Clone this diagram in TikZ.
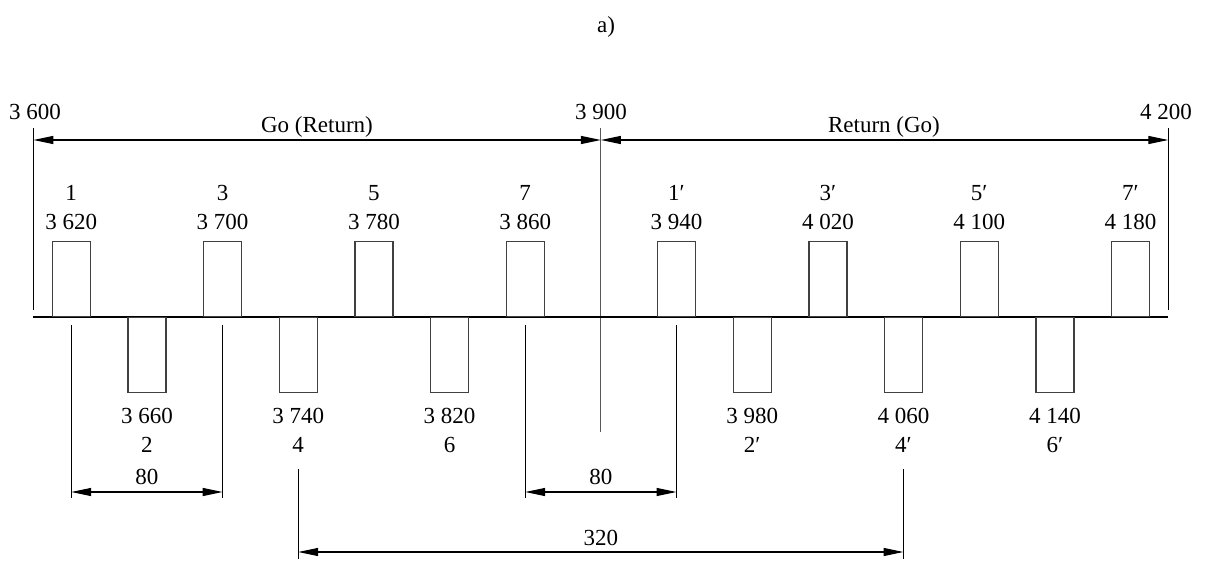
\documentclass[tikz,border=0pt]{standalone}
\usepackage{fontspec}
\setmainfont{Liberation Serif}
\usetikzlibrary{arrows.meta}
\begin{document}
\begin{tikzpicture}[x=1pt,y=-1pt,
  lbl/.style={anchor=base,inner sep=0pt,font=\fontsize{23}{27}\selectfont},
  upbox/.style={draw=black!75,line width=1.2pt,minimum width=38pt,minimum height=75pt,anchor=south,inner sep=0pt},
  downbox/.style={draw=black!75,line width=1.2pt,minimum width=38pt,minimum height=75pt,anchor=north,inner sep=0pt},
  axisline/.style={line width=2.3pt},
  extline/.style={line width=1pt},
  centreline/.style={line width=1pt,black!65},
  dimline/.style={line width=1.2pt,{Triangle[length=20pt,width=8pt]}-{Triangle[length=20pt,width=8pt]}}]
\useasboundingbox (0,0) rectangle (1205,561);

% title
\node[lbl] (title) at (606,33) {a)};

% band limits and centre
\coordinate (Lt) at (33.4,128);
\coordinate (Lb) at (33.4,310);
\coordinate (Rt) at (1168.3,128);
\coordinate (Rb) at (1168.3,310);
\coordinate (Ct) at (600.9,128);
\coordinate (Cb) at (600.9,432);
\draw[extline] (Lt) -- (Lb);
\draw[extline] (Rt) -- (Rb);
\draw[centreline] (Ct) -- (Cb);

% axis
\coordinate (A0) at (33.4,317);
\coordinate (A1) at (1168.3,317);
\draw[axisline] (A0) -- (A1);

% top dimension
\coordinate (dL) at (33.4,140);
\coordinate (dC) at (600.9,140);
\coordinate (dR) at (1168.3,140);
\draw[dimline] (dL) -- (dC);
\draw[dimline] (dC) -- (dR);
\node[lbl] (f3600) at (35,120) {3 600};
\node[lbl] (f3900) at (600.9,120) {3 900};
\node[lbl] (f4200) at (1166,120) {4 200};
\node[lbl] (go) at (317,133) {Go (Return)};
\node[lbl] (ret) at (884,133) {Return (Go)};

% upper channels
\foreach \x/\t/\n/\k in {71.2/3 620/1/a,222.6/3 700/3/b,373.9/3 780/5/c,525.2/3 860/7/d,
  676.5/3 940/1′/e,827.9/4 020/3′/f,979.2/4 100/5′/g,1130.5/4 180/7′/h}{
  \node[upbox] (u\k) at (\x,317) {};
  \node[lbl] (un\k) at (\x,201) {\n};
  \node[lbl] (uf\k) at (\x,230) {\t};
}

% lower channels
\foreach \x/\t/\n/\k in {146.9/3 660/2/a,298.2/3 740/4/b,449.6/3 820/6/c,
  752.2/3 980/2′/d,903.5/4 060/4′/e,1054.9/4 140/6′/f}{
  \node[downbox] (d\k) at (\x,317) {};
  \node[lbl] (df\k) at (\x,423) {\t};
  \node[lbl] (dn\k) at (\x,452) {\n};
}

% dimension 80 (1 to 3)
\coordinate (e1t) at (71.2,325);
\coordinate (e1b) at (71.2,498);
\coordinate (e2t) at (222.6,325);
\coordinate (e2b) at (222.6,498);
\coordinate (m1a) at (71.2,492);
\coordinate (m1b) at (222.6,492);
\draw[extline] (e1t) -- (e1b);
\draw[extline] (e2t) -- (e2b);
\draw[dimline] (m1a) -- (m1b);
\node[lbl] (k80a) at (146.9,484) {80};

% dimension 80 (7 to 1')
\coordinate (e3t) at (525.2,325);
\coordinate (e3b) at (525.2,498);
\coordinate (e4t) at (676.5,325);
\coordinate (e4b) at (676.5,498);
\coordinate (m2a) at (525.2,492);
\coordinate (m2b) at (676.5,492);
\draw[extline] (e3t) -- (e3b);
\draw[extline] (e4t) -- (e4b);
\draw[dimline] (m2a) -- (m2b);
\node[lbl] (k80b) at (600.9,484) {80};

% dimension 320
\coordinate (e5t) at (298.2,469);
\coordinate (e5b) at (298.2,559);
\coordinate (e6t) at (903.5,469);
\coordinate (e6b) at (903.5,559);
\coordinate (m3a) at (298.2,552);
\coordinate (m3b) at (903.5,552);
\draw[extline] (e5t) -- (e5b);
\draw[extline] (e6t) -- (e6b);
\draw[dimline] (m3a) -- (m3b);
\node[lbl] (k320) at (600.9,545) {320};
\end{tikzpicture}
\end{document}
